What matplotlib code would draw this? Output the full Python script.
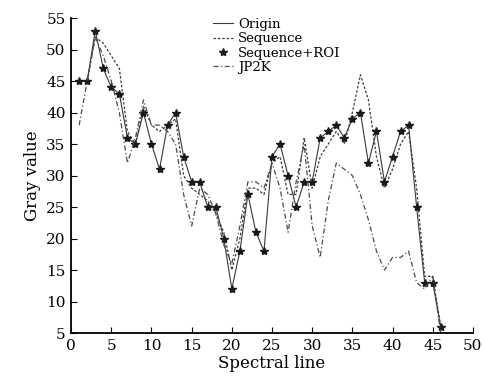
import matplotlib
matplotlib.use('Agg')
import matplotlib.pyplot as plt

# Données (raie spectrale 1..46)
raies = list(range(1, 47))
origine = [45, 45, 53, 47, 44, 43, 36, 35, 40, 35, 31, 38, 40, 33, 29, 29, 25, 25, 20, 12,
           18, 27, 21, 18, 33, 35, 30, 25, 29, 29, 36, 37, 38, 36, 39, 40, 32, 37, 29, 33,
           37, 38, 25, 13, 13, 6]
sequence = [45, 45, 52, 51, 49, 47, 37, 35, 41, 38, 37, 38, 39, 30, 28, 27, 26, 24, 21, 15,
            20, 28, 28, 27, 32, 33, 27, 27, 36, 28, 33, 35, 37, 35, 40, 46, 42, 33, 28, 31,
            35, 37, 28, 14, 14, 6]
sequence_roi = [45, 45, 53, 47, 44, 43, 36, 35, 40, 35, 31, 38, 40, 33, 29, 29, 25, 25, 20, 12,
                18, 27, 21, 18, 33, 35, 30, 25, 29, 29, 36, 37, 38, 36, 39, 40, 32, 37, 29, 33,
                37, 38, 25, 13, 13, 6]
jp2k = [38, 45, 52, 49, 45, 40, 32, 36, 42, 38, 38, 37, 35, 27, 22, 28, 27, 24, 19, 16,
        22, 29, 29, 28, 32, 28, 21, 29, 35, 22, 17, 26, 32, 31, 30, 27, 23, 18, 15, 17,
        17, 18, 13, 12, 14, 5]


def main():
    plt.rcParams['font.family'] = ['DejaVu Serif']
    fig = plt.figure(figsize=(4.84, 3.85), dpi=100)
    ax = fig.add_axes([0.147, 0.135, 0.83, 0.818])

    ax.plot(raies, origine, '-', color='#3a3a3a', lw=0.8, label='Origin')
    ax.plot(raies, sequence, color='#3a3a3a', lw=0.9, linestyle=(0, (2, 1.5)), label='Sequence')
    ax.plot(raies, sequence_roi, '*', color='#1a1a1a', ms=6, label='Sequence+ROI')
    ax.plot(raies, jp2k, color='#4a4a4a', lw=0.9, linestyle=(0, (4, 2, 1, 2)), label='JP2K')

    ax.set_xlim(0, 50)
    ax.set_ylim(5, 55)
    ax.set_xticks(range(0, 51, 5))
    ax.set_yticks(range(5, 56, 5))
    for cote in ('top', 'right'):
        ax.spines[cote].set_visible(False)
    ax.spines['left'].set_linewidth(1.3)
    ax.spines['bottom'].set_linewidth(1.3)
    ax.tick_params(direction='in', length=4, labelsize=11, pad=4)

    ax.set_xlabel('Spectral line', fontsize=12, labelpad=2)
    ax.set_ylabel('Gray value', fontsize=12, labelpad=4)

    ax.legend(loc='upper left', bbox_to_anchor=(0.33, 1.03), frameon=False,
              fontsize=9.5, handlelength=1.5, handletextpad=0.4, labelspacing=0.1,
              borderpad=0.2)

    fig.savefig('out.png', dpi=100)


if __name__ == '__main__':
    main()
